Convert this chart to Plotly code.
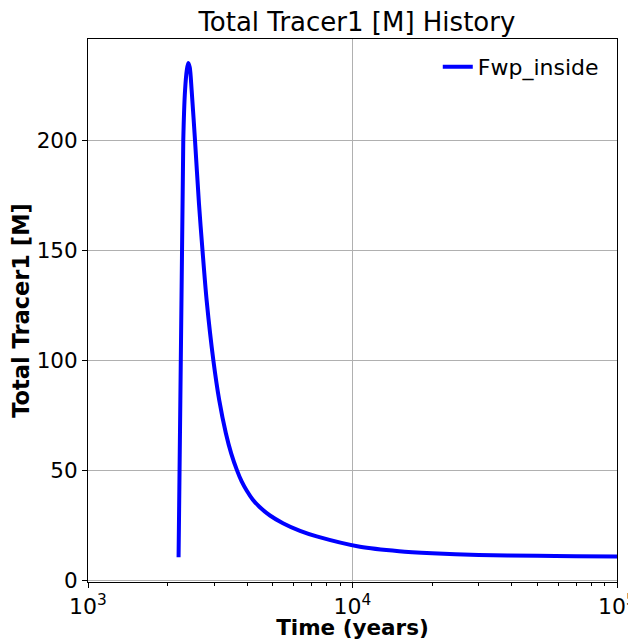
import plotly.graph_objects as go

time_years = [2200, 2292, 2328, 2365, 2394, 2425, 2465, 2538, 2628, 2709, 2810,
              2978, 3133, 3319, 3480, 3659, 3810, 3974, 4200, 4445, 4875, 5458,
              6332, 7321, 10670, 15000, 20000, 30000, 50000, 70000, 100000]
tracer_total = [10.5, 200, 222.7, 232, 235, 233, 222.7, 200, 171, 150, 127,
                100, 82, 67, 57.6, 50, 45, 41, 36.7, 33.5, 29.5, 26,
                22.5, 20, 15.3, 13.3, 12.4, 11.6, 11.2, 11.0, 10.9]
series_name = "Fwp_inside"
major_x = [1000, 10000, 100000]
major_x_text = ["10<sup>3</sup>", "10<sup>4</sup>", "10<sup>5</sup>"]
minor_x = [m * d for d in (1000, 10000) for m in range(2, 10)]
y_ticks = [0, 50, 100, 150, 200]

FONT = "DejaVu Sans"

fig = go.Figure()
fig.add_trace(go.Scatter(
    x=time_years, y=tracer_total, mode="lines", name=series_name,
    line=dict(color="#0000ff", width=4, shape="spline", smoothing=0.8),
))

fig.update_layout(
    width=628, height=632,
    margin=dict(l=80, r=19, t=31, b=58),
    paper_bgcolor="white", plot_bgcolor="white",
    font=dict(family=FONT, color="black", size=21),
    title=dict(text="Total Tracer1 [M] History", x=0.5555, xanchor="center",
               y=0.978, yanchor="middle", font=dict(size=26, family=FONT)),
    showlegend=True,
    legend=dict(x=0.975, y=0.987, xanchor="right", yanchor="top",
                bgcolor="rgba(255,255,255,0)", borderwidth=0,
                font=dict(size=22, family=FONT)),
)

fig.update_xaxes(
    type="log", range=[3, 5], automargin=False,
    tickmode="array", tickvals=major_x, ticktext=major_x_text,
    ticks="outside", ticklen=5, tickwidth=1, tickcolor="black",
    showline=True, linecolor="black", linewidth=1, mirror=True,
    showgrid=True, gridcolor="#b0b0b0", gridwidth=1,
    tickfont=dict(size=22, family=FONT),
    minor=dict(tickmode="array", tickvals=minor_x, ticks="outside", ticklen=3,
               tickcolor="black", showgrid=False),
    title=dict(text="<b>Time (years)</b>", font=dict(size=21.5, family=FONT), standoff=2),
    zeroline=False,
)
fig.update_yaxes(
    range=[-0.7, 245.9], automargin=False,
    tickmode="array", tickvals=y_ticks,
    ticks="outside", ticklen=5, tickwidth=1, tickcolor="black",
    showline=True, linecolor="black", linewidth=1, mirror=True,
    showgrid=True, gridcolor="#b0b0b0", gridwidth=1,
    tickfont=dict(size=21.5, family=FONT),
    title=dict(text="<b>Total Tracer1 [M]</b>", font=dict(size=22.5, family=FONT), standoff=8),
    zeroline=False,
)

fig.write_html("out.html")
